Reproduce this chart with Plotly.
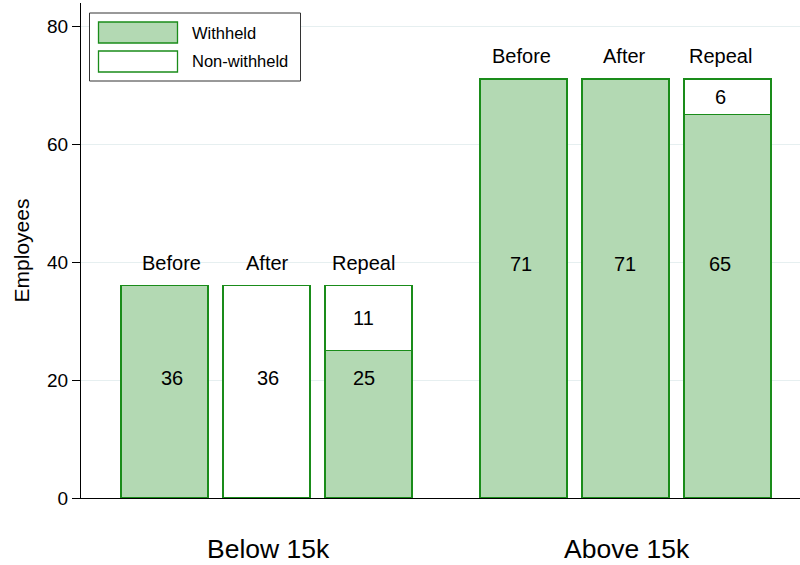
import plotly.graph_objects as go

# ---- data ----
groups = ["Below 15k", "Above 15k"]
periods = ["Before", "After", "Repeal"]
withheld = [[36, 0, 25], [71, 71, 65]]
non_withheld = [[0, 36, 11], [0, 0, 6]]
series_names = ["Withheld", "Non-withheld"]
y_ticks = [0, 20, 40, 60, 80]

# ---- layout / style constants ----
FONT = "Liberation Sans, Arial, sans-serif"
FILL = "#b3d9b3"
EDGE = "#1a8c1a"
GRID = "#e6eff0"
group_gap = 0.52
bar_width = 0.853
main_label_y = [20.3, 39.7]            # height of the main value label in each group
label_xshift = [[7, 1, -5], [-2.5, -1, -7.5]]   # px nudges of the text labels

xs, w_vals, n_vals, totals, per_lab, grp_idx, shifts = [], [], [], [], [], [], []
for g in range(len(groups)):
    for i, p in enumerate(periods):
        xs.append(g * (len(periods) + group_gap) + i)
        w_vals.append(withheld[g][i])
        n_vals.append(non_withheld[g][i])
        totals.append(withheld[g][i] + non_withheld[g][i])
        per_lab.append(p)
        grp_idx.append(g)
        shifts.append(label_xshift[g][i])

fig = go.Figure()
fig.add_trace(go.Bar(x=xs, y=w_vals, width=bar_width, name=series_names[0],
                     marker=dict(color=FILL, line=dict(color=EDGE, width=1.4)),
                     showlegend=False, hoverinfo="y"))
fig.add_trace(go.Bar(x=xs, y=n_vals, width=bar_width, name=series_names[1],
                     marker=dict(color="white", line=dict(color=EDGE, width=1.4)),
                     showlegend=False, hoverinfo="y"))

ann = []
for x, w, n, t, p, g, s in zip(xs, w_vals, n_vals, totals, per_lab, grp_idx, shifts):
    # period label above the bar
    ann.append(dict(x=x, y=t, text=p, showarrow=False, yanchor="middle",
                    yshift=23, xshift=s, font=dict(size=20, color="black", family=FONT)))
    if w > 0 and n > 0:
        ann.append(dict(x=x, y=main_label_y[g], text=str(w), showarrow=False, xshift=s,
                        font=dict(size=20, color="black", family=FONT)))
        ann.append(dict(x=x, y=w + n / 2, text=str(n), showarrow=False, xshift=s,
                        font=dict(size=20, color="black", family=FONT)))
    else:
        ann.append(dict(x=x, y=main_label_y[g], text=str(t), showarrow=False, xshift=s,
                        font=dict(size=20, color="black", family=FONT)))

# group labels under the axis
for g, name in enumerate(groups):
    gx = g * (len(periods) + group_gap) + (len(periods) - 1) / 2
    ann.append(dict(x=gx, y=0, yref="paper", text=name, showarrow=False,
                    yanchor="middle", yshift=-51, xshift=1.5,
                    font=dict(size=26.5, color="black", family=FONT)))

# manual legend (paper coordinates from pixel positions)
L, T, PW, PH = 81, 3, 800 - 81, 498 - 3
def px(x):
    return (x - L) / PW
def py(y):
    return 1 - (y - T) / PH

shapes = [dict(type="rect", xref="paper", yref="paper",
               x0=px(89.5), x1=px(300.5), y0=py(81), y1=py(13),
               line=dict(color="#333333", width=1), fillcolor="white", layer="above")]
legend_rows = [(22, 43, FILL), (51, 72, "white")]
for (top, bot, col), name in zip(legend_rows, series_names):
    shapes.append(dict(type="rect", xref="paper", yref="paper",
                       x0=px(98.5), x1=px(177.5), y0=py(bot), y1=py(top),
                       line=dict(color=EDGE, width=1.3), fillcolor=col, layer="above"))
    ann.append(dict(x=px(190), y=py((top + bot) / 2), xref="paper", yref="paper",
                    text=name, showarrow=False, xanchor="left", yanchor="middle",
                    font=dict(size=16.5, color="black", family=FONT)))

fig.update_layout(
    width=800, height=565,
    margin=dict(l=81, r=0, t=3, b=67),
    barmode="stack",
    plot_bgcolor="white", paper_bgcolor="white",
    font=dict(family=FONT, color="black"),
    annotations=ann, shapes=shapes,
    xaxis=dict(range=[-0.819, 6.23], showticklabels=False, ticks="",
               showgrid=False, zeroline=False, showline=True,
               linecolor="black", linewidth=1.3, fixedrange=True),
    yaxis=dict(range=[0, 83.9], tickvals=y_ticks, ticks="outside", ticklen=8,
               tickcolor="black", tickwidth=1.3,
               tickfont=dict(size=19, family=FONT, color="black"),
               showgrid=True, gridcolor=GRID, gridwidth=1.3, zeroline=False,
               showline=True, linecolor="black", linewidth=1.3,
               title=dict(text="Employees", font=dict(size=21, family=FONT, color="black"),
                          standoff=11)),
)

fig.write_html("out.html", config={"displayModeBar": False},
               post_script="document.body.style.margin='0';document.body.style.overflow='hidden';")
